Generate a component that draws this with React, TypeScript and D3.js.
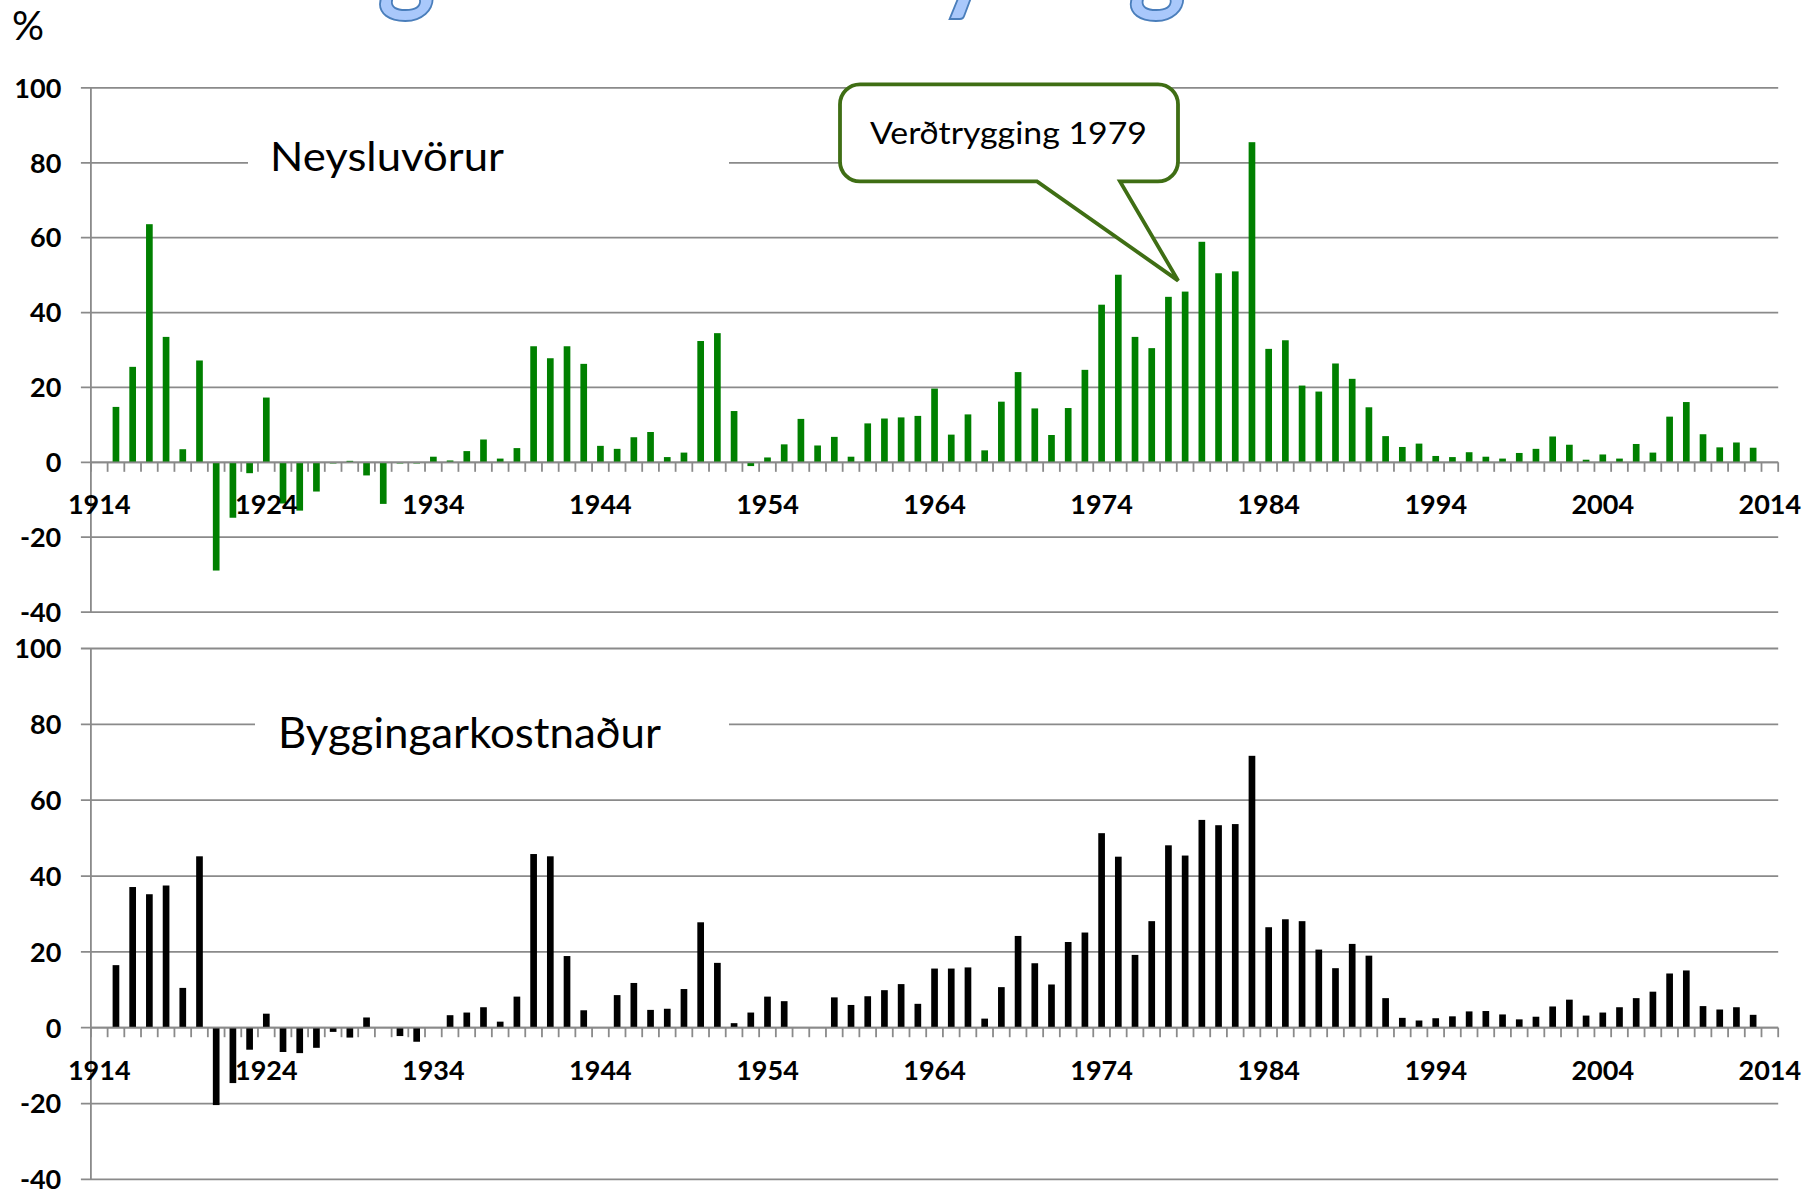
import React from 'react';
import * as d3 from 'd3';

// ---------- DATA ----------
const years: number[] = d3.range(1914, 2015);

// Neysluvörur (consumer prices), annual % change, 1914..2014
const consumerPrices: (number | null)[] = [
  null, 14.8, 25.5, 63.6, 33.5, 3.5, 27.2, -28.9, -14.8, -2.9,
  17.3, -11.0, -12.9, -7.8, -0.3, 0.4, -3.5, -11.1, -0.3, -0.3,
  1.5, 0.5, 3.0, 6.1, 1.0, 3.8, 31.0, 27.8, 31.0, 26.3,
  4.4, 3.6, 6.7, 8.1, 1.4, 2.6, 32.4, 34.5, 13.7, -1.0,
  1.3, 4.8, 11.6, 4.5, 6.8, 1.5, 10.4, 11.7, 12.0, 12.4,
  19.7, 7.4, 12.8, 3.2, 16.2, 24.1, 14.4, 7.3, 14.5, 24.7,
  42.1, 50.1, 33.5, 30.5, 44.2, 45.6, 58.9, 50.5, 51.0, 85.5,
  30.3, 32.6, 20.5, 18.9, 26.4, 22.3, 14.7, 7.0, 4.1, 5.0,
  1.7, 1.4, 2.7, 1.5, 1.0, 2.5, 3.6, 6.9, 4.7, 0.7,
  2.1, 1.0, 4.9, 2.6, 12.2, 16.1, 7.5, 4.0, 5.3, 3.9,
  null,
];

// Byggingarkostnaður (building cost), annual % change, 1914..2014
const buildingCost: (number | null)[] = [
  null, 16.5, 37.1, 35.2, 37.5, 10.5, 45.2, -20.4, -14.6, -5.8,
  3.7, -6.4, -6.7, -5.3, -1.1, -2.6, 2.7, null, -2.2, -3.7,
  null, 3.3, 4.0, 5.4, 1.6, 8.2, 45.8, 45.2, 18.9, 4.6,
  null, 8.6, 11.8, 4.7, 5.0, 10.2, 27.8, 17.1, 1.2, 4.0,
  8.2, 7.0, null, null, 8.0, 6.0, 8.3, 9.9, 11.5, 6.3,
  15.6, 15.6, 15.9, 2.4, 10.7, 24.2, 17.0, 11.4, 22.6, 25.1,
  51.3, 45.1, 19.2, 28.1, 48.1, 45.4, 54.8, 53.4, 53.7, 71.7,
  26.5, 28.6, 28.1, 20.6, 15.7, 22.1, 19.0, 7.8, 2.6, 1.9,
  2.5, 3.0, 4.3, 4.4, 3.5, 2.2, 2.9, 5.6, 7.4, 3.2,
  4.0, 5.4, 7.8, 9.5, 14.3, 15.1, 5.7, 4.8, 5.4, 3.4,
  null,
];

const yTickValues: number[] = [-40, -20, 0, 20, 40, 60, 80, 100];
const xTickLabels: number[] = [1914, 1924, 1934, 1944, 1954, 1964, 1974, 1984, 1994, 2004, 2014];

const titleWords: string[] = ['Árlegar', 'verðbreytingar'];
const panelLabels: string[] = ['Neysluvörur', 'Byggingarkostnaður'];
const calloutText = 'Verðtrygging 1979';
const calloutYear = 1979;

// ---------- LAYOUT ----------
const W = 1818;
const H = 1189;
const X_LEFT = 90.9;
const X_RIGHT = 1778.2;
const GRID = '#8a8a8a';
const FONT = 'Lato, "Open Sans", sans-serif';

const x = d3
  .scaleBand<number>()
  .domain(years)
  .range([X_LEFT, X_RIGHT])
  .paddingInner(0.6)
  .paddingOuter(0.3);
const step = x.step();
const catCenter = (yr: number) => (x(yr) as number) + x.bandwidth() / 2;
const boundaries = d3.range(years.length + 1).map((i) => X_LEFT + i * step);

type PanelProps = {
  y100: number;
  yM40: number;
  data: (number | null)[];
  color: string;
  label: string;
  labelX: number;
  labelBaseline: number;
  labelWidth: number;
  labelSize: number;
  gapX0: number;
  gapX1: number;
  callout?: boolean;
};

function Panel(p: PanelProps) {
  const y = d3.scaleLinear().domain([-40, 100]).range([p.yM40, p.y100]);
  const y0 = y(0);
  const cIdx = years.indexOf(calloutYear);
  const cVal = consumerPrices[cIdx] as number;
  // callout geometry
  const bx0 = 840, bx1 = 1178, by0 = 84.3, by1 = 181.4, r = 20;
  const tipX = catCenter(calloutYear) - 7;
  const tipY = y(cVal) - 11;
  const baseL = 1037, baseR = 1120;
  const calloutPath = [
    `M${bx0 + r},${by0}`,
    `L${bx1 - r},${by0}`,
    `A${r},${r} 0 0 1 ${bx1},${by0 + r}`,
    `L${bx1},${by1 - r}`,
    `A${r},${r} 0 0 1 ${bx1 - r},${by1}`,
    `L${baseR},${by1}`,
    `L${tipX},${tipY}`,
    `L${baseL},${by1}`,
    `L${bx0 + r},${by1}`,
    `A${r},${r} 0 0 1 ${bx0},${by1 - r}`,
    `L${bx0},${by0 + r}`,
    `A${r},${r} 0 0 1 ${bx0 + r},${by0}`,
    'Z',
  ].join(' ');

  return (
    <g>
      {yTickValues.map((t) => (
        <line key={'g' + t} x1={X_LEFT - 10} x2={X_RIGHT} y1={y(t)} y2={y(t)} stroke={GRID} strokeWidth={1.8} />
      ))}
      <rect x={p.gapX0} width={p.gapX1 - p.gapX0} y={y(80) - 5} height={10} fill="#fff" />
      {p.data.map((v, i) =>
        v == null ? null : (
          <rect
            key={'b' + i}
            x={x(years[i]) as number}
            width={x.bandwidth()}
            y={Math.min(y(v), y0)}
            height={Math.abs(y(v) - y0)}
            fill={p.color}
          />
        )
      )}
      <line x1={X_LEFT} x2={X_RIGHT} y1={y0} y2={y0} stroke={GRID} strokeWidth={1.8} />
      <line x1={X_LEFT} x2={X_LEFT} y1={p.y100} y2={p.yM40} stroke={GRID} strokeWidth={1.8} />
      {boundaries.map((bx, i) => (
        <line key={'t' + i} x1={bx} x2={bx} y1={y0} y2={y0 + 9.5} stroke={GRID} strokeWidth={1.8} />
      ))}
      {yTickValues.map((t) => (
        <text
          key={'yl' + t}
          x={61.3}
          y={y(t) + 9.8}
          textAnchor="end"
          fontFamily={FONT}
          fontWeight={700}
          fontSize={27}
          fill="#000"
        >
          {t}
        </text>
      ))}
      {xTickLabels.map((yr) => (
        <text
          key={'xl' + yr}
          x={catCenter(yr)}
          y={y0 + 52}
          textAnchor="middle"
          fontFamily={FONT}
          fontWeight={700}
          fontSize={27}
          fill="#000"
        >
          {yr}
        </text>
      ))}
      <text
        x={p.labelX}
        y={p.labelBaseline}
        fontFamily={FONT}
        fontSize={p.labelSize}
        textLength={p.labelWidth}
        lengthAdjust="spacingAndGlyphs"
        fill="#000"
      >
        {p.label}
      </text>
      {p.callout && (
        <g>
          <path d={calloutPath} fill="#fff" stroke="#3f6e14" strokeWidth={3.8} strokeLinejoin="miter" />
          <text
            x={870}
            y={144.3}
            fontFamily={FONT}
            fontSize={31}
            textLength={277}
            lengthAdjust="spacingAndGlyphs"
            fill="#000"
          >
            {calloutText}
          </text>
        </g>
      )}
    </g>
  );
}

export default function App() {
  const titleY = -2;
  const titleSize = 125;
  return (
    <svg
      width={W}
      height={H}
      viewBox={`0 0 ${W} ${H}`}
      style={{ position: 'absolute', left: 0, top: 0, background: '#fff' }}
    >
      <rect x={0} y={0} width={W} height={H} fill="#fff" />
      {/* title, cut off at the top edge */}
      <text
        x={173}
        y={titleY}
        fontFamily={FONT}
        fontWeight={700}
        fontSize={titleSize}
        textLength={360}
        lengthAdjust="spacingAndGlyphs"
        fill="#a9c8fb"
        stroke="#4a7ebb"
        strokeWidth={2}
      >
        {titleWords[0]}
      </text>
      <text
        x={562}
        y={titleY}
        fontFamily={FONT}
        fontWeight={700}
        fontSize={titleSize}
        textLength={721}
        lengthAdjust="spacingAndGlyphs"
        fill="#a9c8fb"
        stroke="#4a7ebb"
        strokeWidth={2}
      >
        {titleWords[1]}
      </text>
      <text x={12} y={40} fontFamily={FONT} fontSize={40} fill="#000">
        %
      </text>
      <Panel
        y100={87.9}
        yM40={612.1}
        data={consumerPrices}
        color="#008000"
        label={panelLabels[0]}
        labelX={270}
        labelBaseline={170.7}
        labelWidth={234}
        labelSize={41}
        gapX0={248}
        gapX1={729}
        callout
      />
      <Panel
        y100={648.5}
        yM40={1179.4}
        data={buildingCost}
        color="#000000"
        label={panelLabels[1]}
        labelX={278}
        labelBaseline={747.6}
        labelWidth={383}
        labelSize={42}
        gapX0={255}
        gapX1={729}
      />
    </svg>
  );
}
